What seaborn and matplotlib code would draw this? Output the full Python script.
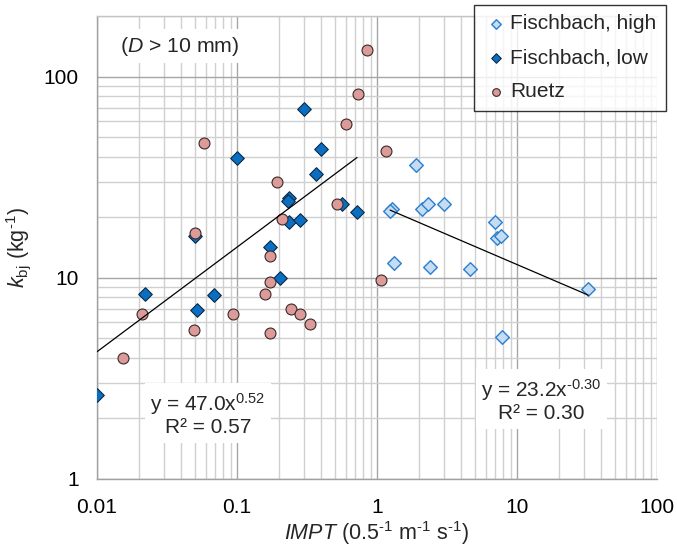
import matplotlib
matplotlib.use("Agg")
import matplotlib.pyplot as plt
import seaborn as sns
import pandas as pd
import numpy as np
from matplotlib.ticker import LogLocator, FixedLocator, FixedFormatter

# ---- data ----
fh_x = [1.90, 1.28, 1.24, 2.08, 2.33, 3.01, 6.96, 7.16, 7.69, 1.32, 2.40, 4.64, 32.3, 7.81]
fh_y = [36.2, 22.0, 21.4, 22.0, 23.2, 23.3, 19.0, 15.7, 16.2, 11.9, 11.3, 11.0, 8.79, 5.09]

fl_x = [0.01, 0.022, 0.0685, 0.0515, 0.0504, 0.0995, 0.172, 0.202, 0.234, 0.28,
        0.236, 0.232, 0.303, 0.369, 0.398, 0.56, 0.72]
fl_y = [2.62, 8.33, 8.20, 6.93, 16.2, 39.4, 14.3, 9.97, 18.9, 19.3,
        25.0, 24.0, 68.8, 32.8, 43.5, 23.3, 21.3]

ru_x = [0.849, 0.728, 0.598, 0.0584, 1.165, 0.192, 0.521, 0.208, 0.0504, 0.172,
        0.172, 1.062, 0.158, 0.0211, 0.093, 0.243, 0.282, 0.331, 0.0493, 0.172, 0.0154]
ru_y = [135, 82.0, 58.2, 46.8, 42.5, 29.8, 23.2, 19.7, 16.7, 12.9,
        9.48, 9.70, 8.29, 6.60, 6.60, 6.96, 6.62, 5.86, 5.49, 5.31, 4.01]

fit_low_x = [0.01, 0.72]
fit_low_y = [4.29, 39.6]
fit_high_x = [1.24, 32.3]
fit_high_y = [21.7, 8.2]

series_names = ["Fischbach, high", "Fischbach, low", "Ruetz"]
x_ticks = [0.01, 0.1, 1, 10, 100]
x_ticklabels = ["0.01", "0.1", "1", "10", "100"]
y_ticks = [1, 10, 100]
y_ticklabels = ["1", "10", "100"]

# ---- style ----
sns.set_style("white")
plt.rcParams["font.family"] = ["Liberation Sans", "DejaVu Sans"]
plt.rcParams["mathtext.fontset"] = "custom"
plt.rcParams["mathtext.rm"] = "Liberation Sans"
plt.rcParams["mathtext.it"] = "Liberation Sans:italic"
plt.rcParams["mathtext.bf"] = "Liberation Sans:bold"

HY = "\u2010"  # hyphen used in superscripts, as in the original

fig = plt.figure(figsize=(6.77, 5.54), dpi=100)
ax = fig.add_axes([97 / 677, 1 - 479 / 554, (657 - 97) / 677, (479 - 16) / 554])
ax.set_xscale("log")
ax.set_yscale("log")
ax.set_xlim(0.01, 100)
ax.set_ylim(1, 200)

df = pd.concat([
    pd.DataFrame({"x": fh_x, "y": fh_y, "series": series_names[0]}),
    pd.DataFrame({"x": fl_x, "y": fl_y, "series": series_names[1]}),
    pd.DataFrame({"x": ru_x, "y": ru_y, "series": series_names[2]}),
], ignore_index=True)

styles = {
    series_names[0]: dict(marker="D", color="#c5dcf2", edgecolor="#2a7fcf", s=48, linewidth=1.0),
    series_names[1]: dict(marker="D", color="#0a6fc2", edgecolor="#0d2a45", s=48, linewidth=0.8),
    series_names[2]: dict(marker="o", color="#dc9a98", edgecolor="#3a2a2a", s=62, linewidth=0.8),
}
for name in series_names:
    sub = df[df["series"] == name]
    st = styles[name]
    sns.scatterplot(data=sub, x="x", y="y", ax=ax, label=name, marker=st["marker"],
                    color=st["color"], edgecolor=st["edgecolor"], s=st["s"],
                    linewidth=st["linewidth"], zorder=3)

sns.lineplot(x=fit_low_x, y=fit_low_y, ax=ax, color="black", linewidth=0.9, zorder=4,
             legend=False)
sns.lineplot(x=fit_high_x, y=fit_high_y, ax=ax, color="black", linewidth=0.9, zorder=4,
             legend=False)

# grid
ax.xaxis.set_minor_locator(LogLocator(base=10, subs=np.arange(2, 10), numticks=20))
ax.yaxis.set_minor_locator(LogLocator(base=10, subs=np.arange(2, 10), numticks=20))
ax.grid(which="major", color="#a6a6a6", linewidth=1.0, zorder=0)
ax.grid(which="minor", color="#d0d0d0", linewidth=1.0, zorder=0)
ax.set_axisbelow(True)
ax.xaxis.set_major_locator(FixedLocator(x_ticks))
ax.xaxis.set_major_formatter(FixedFormatter(x_ticklabels))
ax.yaxis.set_major_locator(FixedLocator(y_ticks))
ax.yaxis.set_major_formatter(FixedFormatter(y_ticklabels))
ax.tick_params(which="both", length=0, labelsize=15, colors="black", pad=13)
ax.tick_params(axis="x", pad=13.5)
ax.xaxis.set_minor_formatter(FixedFormatter([]))
ax.yaxis.set_minor_formatter(FixedFormatter([]))
ax.spines["right"].set_visible(False)
ax.spines["top"].set_color("#c4c4c4")
ax.spines["top"].set_linewidth(1.0)
for side in ["left", "bottom"]:
    ax.spines[side].set_color("#a0a0a0")
    ax.spines[side].set_linewidth(1.0)

ax.set_xlabel(r"$\mathit{IMPT}$ (0.5$^{" + HY + r"1}$ m$^{" + HY + r"1}$ s$^{" + HY + r"1}$)",
              fontsize=15.5, labelpad=2)
ax.set_ylabel(r"$\mathit{k}_{\mathrm{bj}}$ (kg$^{" + HY + r"1}$)", fontsize=15.5, labelpad=8)

box = dict(facecolor="white", edgecolor="none", pad=4)
ax.text(0.041, 0.935, r"($\mathit{D}$ > 10 mm)", transform=ax.transAxes, fontsize=15.3,
        ha="left", va="center", bbox=box, zorder=5)
ax.text(0.198, 0.14, "y = 47.0x$^{0.52}$\nR² = 0.57", transform=ax.transAxes,
        fontsize=15, ha="center", va="center", linespacing=1.1, bbox=box, zorder=5)
ax.text(0.794, 0.17, "y = 23.2x$^{" + HY + "0.30}$\nR² = 0.30", transform=ax.transAxes,
        fontsize=15, ha="center", va="center", linespacing=1.1, bbox=box, zorder=5)

handles, labels = ax.get_legend_handles_labels()
leg = ax.legend(handles, labels, loc="upper right", bbox_to_anchor=(666 / 677, 1 - 5 / 554),
                bbox_transform=fig.transFigure, fontsize=15, frameon=True, fancybox=False,
                markerscale=0.7, handletextpad=0.1, handlelength=1.2, borderpad=0.45,
                labelspacing=0.72, borderaxespad=0)
leg.get_frame().set_edgecolor("black")
leg.get_frame().set_linewidth(1.0)
leg.set_zorder(10)

fig.savefig("out.png", dpi=100)
